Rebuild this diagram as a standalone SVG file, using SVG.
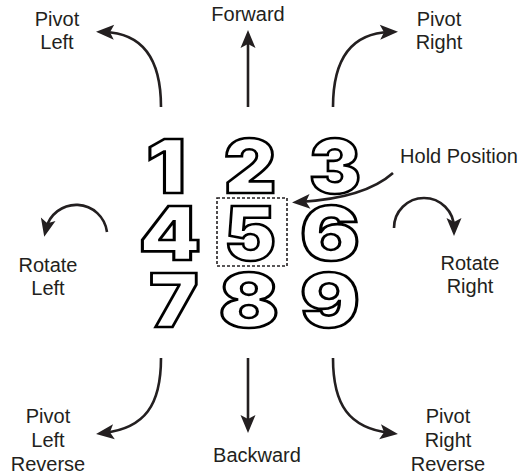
<svg xmlns="http://www.w3.org/2000/svg" width="526" height="475" viewBox="0 0 526 475">
<style>
.lbl{font-family:"Liberation Sans",Arial,sans-serif;font-size:20px;fill:#231f20;text-anchor:middle}
.dig{font-family:Inter,"DejaVu Sans",sans-serif;font-weight:900;font-size:74px;fill:#fff;stroke:#000;stroke-width:2.6;stroke-linejoin:miter;text-anchor:middle}
.arr{fill:none;stroke:#231f20;stroke-width:2.6;marker-end:url(#ah)}
</style>
<defs>
<marker id="ah" markerUnits="userSpaceOnUse" viewBox="-12 -9 22 18" refX="0" refY="0" markerWidth="22" markerHeight="18" orient="auto" overflow="visible">
<path d="M8,0 L-10,-7.5 L-6,0 L-10,7.5 Z" fill="#231f20"/>
</marker>
</defs>
<rect width="526" height="475" fill="#fff"/>
<g id="connectors">
<path class="arr" d="M161,107 C161,55 140,33 104,32"/>
<path class="arr" d="M248,107 L248,38"/>
<path class="arr" d="M333,107 C333,55 354,33 390,32"/>
<path class="arr" d="M161,358 C161,405 145,428 104,433"/>
<path class="arr" d="M248,358 L248,425"/>
<path class="arr" d="M333,358 C333,405 349,428 390,433"/>
<path class="arr" d="M107,232 A31,31 0 0 0 46,229"/>
<path class="arr" d="M394,228 A30,30 0 0 1 454,228"/>
<path class="arr" d="M393,173 Q365,198 300,202"/>
</g>
<g id="n1"><text class="dig" transform="translate(166,193) scale(1.2,1)">1</text></g>
<g id="n2"><text class="dig" transform="translate(250,193) scale(1.1,1)">2</text></g>
<g id="n3"><text class="dig" transform="translate(335,193) scale(1.05,1)">3</text></g>
<g id="n4"><text class="dig" transform="translate(170,260) scale(1.2,1)">4</text></g>
<g id="n5">
<rect x="217" y="198" width="70" height="68" fill="none" stroke="#231f20" stroke-width="1.6" stroke-dasharray="3,2"/>
<text class="dig" transform="translate(250,260) scale(1.05,1)">5</text></g>
<g id="n6"><text class="dig" transform="translate(330,260) scale(1.2,1)">6</text></g>
<g id="n7"><text class="dig" transform="translate(174,327) scale(1.12,1)">7</text></g>
<g id="n8"><text class="dig" transform="translate(249,327) scale(1.2,1)">8</text></g>
<g id="n9"><text class="dig" transform="translate(330,327) scale(1.2,1)">9</text></g>
<g id="labels">
<text class="lbl" x="57" y="26">Pivot</text>
<text class="lbl" x="57" y="49">Left</text>
<text class="lbl" x="248" y="21">Forward</text>
<text class="lbl" x="439" y="26">Pivot</text>
<text class="lbl" x="439" y="49">Right</text>
<text class="lbl" x="459" y="163">Hold Position</text>
<text class="lbl" x="48" y="272">Rotate</text>
<text class="lbl" x="48" y="295">Left</text>
<text class="lbl" x="470" y="270">Rotate</text>
<text class="lbl" x="470" y="293">Right</text>
<text class="lbl" x="48" y="423">Pivot</text>
<text class="lbl" x="48" y="447">Left</text>
<text class="lbl" x="48" y="471">Reverse</text>
<text class="lbl" x="257" y="462">Backward</text>
<text class="lbl" x="448" y="423">Pivot</text>
<text class="lbl" x="448" y="447">Right</text>
<text class="lbl" x="448" y="471">Reverse</text>
</g>
</svg>
